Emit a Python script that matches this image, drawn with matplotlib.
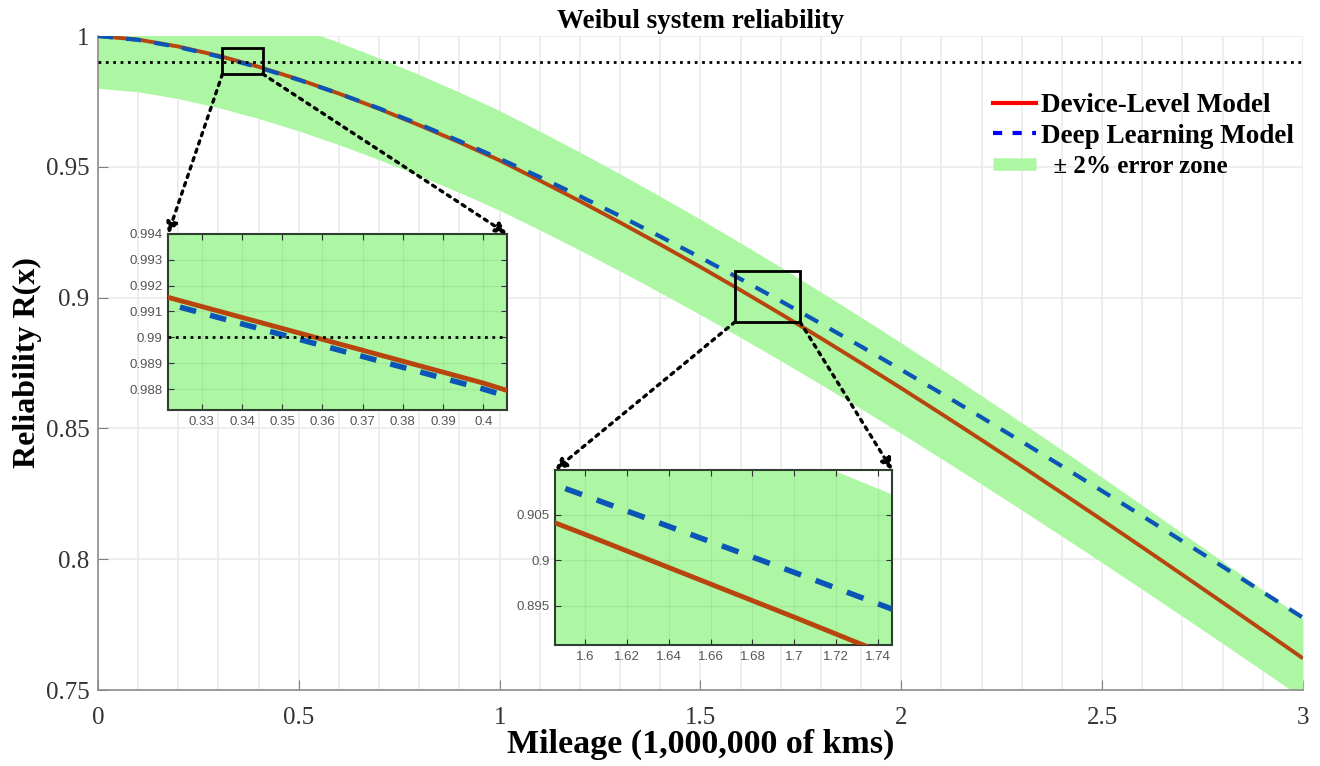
import numpy as np
import matplotlib
matplotlib.use("Agg")
from matplotlib import pyplot as plt
from matplotlib.patches import Rectangle, ConnectionPatch
from matplotlib.lines import Line2D

# mileage (1,000,000 km) and reliability
mileage = [0.0, 0.1, 0.2, 0.3, 0.4, 0.5, 0.6, 0.7, 0.8, 0.9, 1.0,
           1.1, 1.2, 1.3, 1.4, 1.5, 1.6, 1.7, 1.8, 1.9, 2.0,
           2.1, 2.2, 2.3, 2.4, 2.5, 2.6, 2.7, 2.8, 2.9, 3.0]
device_level = [1.0, 0.99863, 0.99598, 0.99246, 0.98823, 0.98339, 0.97800,
                0.97215, 0.96590, 0.95935, 0.95245, 0.94475, 0.93685, 0.92870,
                0.92030, 0.91169, 0.90283, 0.89375, 0.88447, 0.87499, 0.86536,
                0.85553, 0.84557, 0.83549, 0.82529, 0.81498, 0.80456, 0.79405,
                0.78346, 0.77279, 0.76210]
deep_learning = [1.0, 0.99851, 0.99576, 0.99220, 0.98800, 0.98324, 0.97800,
                 0.97233, 0.96627, 0.95985, 0.95310, 0.94606, 0.93874, 0.93117,
                 0.92335, 0.91532, 0.90708, 0.89866, 0.89005, 0.88130, 0.87240,
                 0.86336, 0.85420, 0.84492, 0.83555, 0.82607, 0.81651, 0.80689,
                 0.79719, 0.78743, 0.77764]
err_pct = 0.02
target = 0.99

x = np.array(mileage)
red = np.array(device_level)
blue = np.array(deep_learning)
lo = red * (1 - err_pct)
hi = red * (1 + err_pct)

RED = "#b8440e"
BLUE = "#0a55b5"
GREEN = "#adf7a4"
SERIF = "Liberation Serif"
SANS = "Liberation Sans"

fig = plt.figure(figsize=(13.2, 7.66), dpi=100)
ax = fig.add_axes([0.0742, 0.0992, 0.9129, 0.8538])


def draw(a, lw_r, lw_b, dash):
    a.fill_between(x, lo, hi, color=GREEN, lw=0, zorder=1)
    a.plot(x, red, color=RED, lw=lw_r, zorder=3, solid_capstyle="butt")
    a.plot(x, blue, color=BLUE, lw=lw_b, ls=(0, dash), zorder=4)
    a.axhline(target, color="black", ls=":", lw=2, zorder=5)


draw(ax, 2.8, 3.0, (3.6, 3.2))
ax.set_xlim(0, 3)
ax.set_ylim(0.75, 1)
ax.set_xticks([0, 0.5, 1, 1.5, 2, 2.5, 3])
ax.set_xticklabels(["0", "0.5", "1", "1.5", "2", "2.5", "3"])
ax.set_xticks(np.arange(0, 3.01, 0.1), minor=True)
ax.set_yticks([0.75, 0.8, 0.85, 0.9, 0.95, 1])
ax.set_yticklabels(["0.75", "0.8", "0.85", "0.9", "0.95", "1"])
ax.grid(True, which="major", color="#ebebeb", lw=1.2)
ax.grid(True, which="minor", axis="x", color="#ebebeb", lw=1.2)
ax.set_axisbelow(True)
ax.tick_params(which="major", direction="in", length=7, color="#808080",
               labelsize=18, labelcolor="#333333", pad=6)
ax.tick_params(axis="x", which="major", pad=12)
ax.tick_params(which="minor", length=0)
for lab in ax.get_xticklabels() + ax.get_yticklabels():
    lab.set_family(SERIF)
for s in ["top", "right"]:
    ax.spines[s].set_visible(False)
for s in ["left", "bottom"]:
    ax.spines[s].set_color("#8c8c8c")
    ax.spines[s].set_linewidth(1.2)

ax.set_title("Weibul system reliability", family=SERIF, fontweight="bold",
             fontsize=19.5, pad=6)
ax.set_xlabel("Mileage (1,000,000 of kms)", family=SERIF, fontweight="bold",
              fontsize=24.5, labelpad=0)
ax.set_ylabel("Reliability R(x)", family=SERIF, fontweight="bold",
              fontsize=23, labelpad=3)

# zoom boxes on the main axes
box1 = (0.31, 0.9855, 0.10, 0.010)
box2 = (1.586, 0.8907, 0.162, 0.0195)
for bx in [box1, box2]:
    ax.add_patch(Rectangle(bx[:2], bx[2], bx[3], fill=False, ec="black",
                           lw=2, zorder=6))

# insets
ins1 = fig.add_axes([0.1273, 0.4648, 0.2568, 0.2298])
ins2 = fig.add_axes([0.4205, 0.1580, 0.2553, 0.2285])
draw(ins1, 3.5, 4.0, (3.0, 2.6))
draw(ins2, 3.5, 4.0, (3.2, 2.8))
ins1.set_xlim(0.3216, 0.4059)
ins1.set_ylim(0.98719, 0.9940)
ins1.set_xticks(np.arange(0.33, 0.401, 0.01))
ins1.set_yticks(np.arange(0.988, 0.9941, 0.001))
ins2.set_xlim(1.5857, 1.7467)
ins2.set_ylim(0.8907, 0.9099)
ins2.set_xticks(np.arange(1.60, 1.741, 0.02))
ins2.set_yticks([0.895, 0.9, 0.905])
for a in [ins1, ins2]:
    a.xaxis.set_major_formatter(plt.FormatStrFormatter("%g"))
    a.yaxis.set_major_formatter(plt.FormatStrFormatter("%g"))
    a.set_facecolor("white")
    a.grid(True, color="#6a8a6a", alpha=0.14, lw=1)
    a.tick_params(direction="in", length=4, top=True, right=True,
                  labelsize=9.5, labelcolor="#555555", color="#333333", pad=4)
    for lab in a.get_xticklabels() + a.get_yticklabels():
        lab.set_family(SANS)
    for s in a.spines.values():
        s.set_color("#2f3f2f")
        s.set_linewidth(1.5)

# dotted connectors with arrowheads
links = [((box1[0], box1[1]), ins1, (0, 1)),
         ((box1[0] + box1[2], box1[1]), ins1, (1, 1)),
         ((box2[0], box2[1]), ins2, (0, 1)),
         ((box2[0] + box2[2], box2[1]), ins2, (1, 1))]
for xy, a, corner in links:
    cp = ConnectionPatch(xyA=xy, coordsA=ax.transData, xyB=corner,
                         coordsB=a.transAxes, arrowstyle="-|>", ls=":",
                         lw=2.4, color="black", mutation_scale=16, zorder=10)
    fig.add_artist(cp)

handles = [Line2D([], [], color="red", lw=3),
           Line2D([], [], color="blue", lw=3, ls=(0, (2.2, 2.5))),
           Line2D([], [], color=GREEN, lw=9, solid_capstyle="butt")]
labels = ["Device-Level Model", "Deep Learning Model", "  \u00b1 2% error zone"]
leg = ax.legend(handles, labels, loc="upper left",
                bbox_to_anchor=(0.7335, 0.91), bbox_transform=fig.transFigure,
                frameon=False, handlelength=1.6, handletextpad=0.2,
                labelspacing=0.2, prop={"family": SERIF, "weight": "bold",
                                        "size": 19.5})
leg.get_texts()[2].set_fontsize(18)

fig.savefig("out.png", dpi=100)
